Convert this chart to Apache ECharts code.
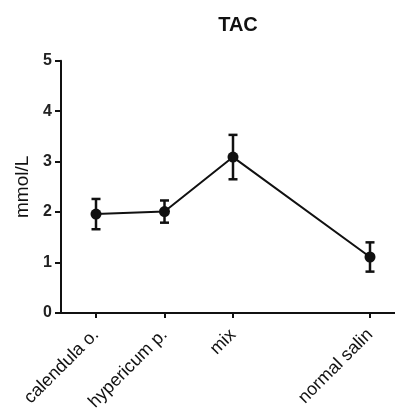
<!DOCTYPE html>
<html><head><meta charset="utf-8">
<script src="https://cdn.jsdelivr.net/npm/echarts@6/dist/echarts.min.js"></script>
<style>html,body{margin:0;padding:0;background:#fff}#c{width:395px;height:417px}</style>
</head><body><div id="c"></div>
<script>
const categories = ['calendula o.', 'hypericum p.', 'mix', 'normal salin'];
const positions = [1, 2, 3, 5];
const means = [1.96, 2.01, 3.09, 1.11];
const errors = [0.30, 0.22, 0.44, 0.29];
const yTicks = [0, 1, 2, 3, 4, 5];

const lineData = positions.map((p, i) => [p, means[i]]);
const errData = positions.map((p, i) => [p, means[i] - errors[i], means[i] + errors[i]]);
const font = 'Arial, "Liberation Sans", sans-serif';

const chart = echarts.init(document.getElementById('c'));
chart.setOption({
  animation: false,
  title: { text: 'TAC', left: 233, textAlign: 'center', top: 10,
    textStyle: { fontFamily: font, fontSize: 20, fontWeight: 'bold', color: '#111' } },
  grid: { left: 61, right: 0, top: 60.7, bottom: 104, containLabel: false },
  xAxis: {
    type: 'value', min: 0.489, max: 5.365,
    splitLine: { show: false },
    axisLine: { lineStyle: { color: '#111', width: 2 } },
    axisTick: { show: true, customValues: positions, length: 5, lineStyle: { color: '#111', width: 2 } },
    axisLabel: { customValues: positions, rotate: 45, margin: 19,
      formatter: v => categories[positions.indexOf(v)] || '',
      fontFamily: font, fontSize: 18, color: '#111' }
  },
  yAxis: {
    type: 'value', min: 0, max: 5, interval: 1,
    name: 'mmol/L', nameLocation: 'middle', nameGap: 28, nameRotate: 90,
    nameTextStyle: { fontFamily: font, fontSize: 19, color: '#111' },
    splitLine: { show: false },
    axisLine: { show: true, lineStyle: { color: '#111', width: 2 } },
    axisTick: { show: true, length: 6, lineStyle: { color: '#111', width: 2 } },
    axisLabel: { margin: 9, fontFamily: font, fontSize: 16, fontWeight: 'bold', color: '#222',
      formatter: v => yTicks.includes(v) ? String(v) : '' }
  },
  series: [
    { type: 'line', data: lineData, symbol: 'circle', symbolSize: 11,
      lineStyle: { color: '#111', width: 2 }, itemStyle: { color: '#111' }, z: 3 },
    { type: 'custom', data: errData, z: 4,
      renderItem: (params, api) => {
        const x = api.value(0);
        const lo = api.coord([x, api.value(1)]);
        const hi = api.coord([x, api.value(2)]);
        const w = 4.5;
        const st = { stroke: '#111', lineWidth: 2.5 };
        return { type: 'group', children: [
          { type: 'line', shape: { x1: lo[0], y1: lo[1], x2: hi[0], y2: hi[1] }, style: st },
          { type: 'line', shape: { x1: lo[0]-w, y1: lo[1], x2: lo[0]+w, y2: lo[1] }, style: st },
          { type: 'line', shape: { x1: hi[0]-w, y1: hi[1], x2: hi[0]+w, y2: hi[1] }, style: st }
        ]};
      } }
  ]
});
</script></body></html>
